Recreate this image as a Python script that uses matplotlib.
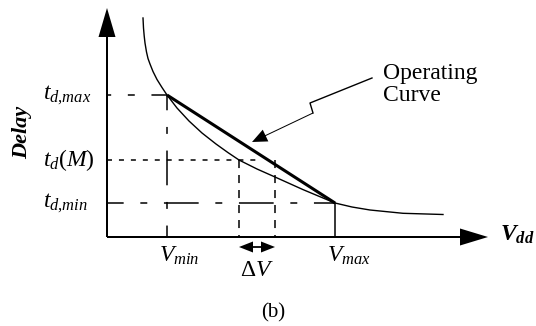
import matplotlib
matplotlib.use("Agg")
import matplotlib.pyplot as plt

plt.rcParams['font.family'] = ['Liberation Serif', 'DejaVu Serif']
plt.rcParams['mathtext.fontset'] = 'custom'
plt.rcParams['mathtext.rm'] = 'Liberation Serif'
plt.rcParams['mathtext.it'] = 'Liberation Serif:italic'
plt.rcParams['mathtext.bf'] = 'Liberation Serif:bold:italic'
plt.rcParams['lines.scale_dashes'] = False

# supply voltage / delay points (arbitrary units)
v_min = 60
v_max = 228
td_max = 142
td_m = 77
td_min = 34
dv_lo = 132
dv_hi = 168

# delay vs Vdd curve
curve_v = [36, 36.5, 37.2, 38, 39.5, 41, 43, 46, 50, 55, 60, 70, 82, 95, 109,
           121, 132, 150, 168, 196, 228, 245, 263, 296, 336]
curve_d = [219, 209, 201, 194, 185, 178.5, 173, 165.5, 157.5, 149.5, 142, 129,
           116, 104, 93, 84.4, 77, 68, 60, 47.4, 34, 30, 27, 23.7, 22.5]

fig = plt.figure(figsize=(5.36, 3.26), dpi=100)
ax = fig.add_axes([0, 0, 1, 1])
ax.set_xlim(-107, 429)
ax.set_ylim(-89, 237)
ax.axis('off')

# axes with arrow heads
ax.arrow(0, 0, 0, 229, width=2, head_width=17, head_length=29,
         length_includes_head=True, color='k', lw=0)
ax.arrow(0, 0, 381, 0, width=2, head_width=17, head_length=28,
         length_includes_head=True, color='k', lw=0)

# delay curve and operating line
ax.plot(curve_v, curve_d, color='k', lw=1.0)
ax.plot([v_min, v_max], [td_max, td_min], color='k', lw=2.2, solid_capstyle='butt')

# guide lines
ax.plot([0, v_min], [td_max, td_max], color='k', lw=1.1, linestyle=(22, (25, 12, 5, 12)))
ax.plot([0, v_max], [td_min, td_min], color='k', lw=1.1, linestyle=(13, (25, 12, 5, 12)))
ax.plot([v_min, v_min], [td_max, 0], color='k', lw=1.1, linestyle=(14, (25, 12, 5, 12)))
ax.plot([v_max, v_max], [td_min, 0], color='k', lw=1.1)
ax.plot([0, dv_hi - 13], [td_m, td_m], color='k', lw=1.1, linestyle=(0, (3.6, 5)))
ax.plot([dv_lo, dv_lo], [td_m, 0], color='k', lw=1.1, linestyle=(0, (5.8, 5)))
ax.plot([dv_hi, dv_hi], [td_m, 0], color='k', lw=1.1, linestyle=(0, (5.8, 5)))

# delta V double arrow
mid = (dv_lo + dv_hi) / 2
for end in (dv_lo, dv_hi):
    ax.arrow(mid, -10, end - mid, 0, width=1.8, head_width=11, head_length=14,
             length_includes_head=True, color='k', lw=0)

# pointer to the operating curve
ax.plot([265, 203, 206], [159, 134, 124], color='k', lw=1.0)
ax.arrow(206, 124, -61, -29, width=1.0, head_width=13, head_length=15,
         length_includes_head=True, color='k', lw=0)
ax.text(276, 174, 'Operating\nCurve', fontsize=17, ha='left', va='top',
        linespacing=1.05)

# tick labels
lab = dict(fontsize=17, ha='left', va='center')
ax.text(-64, td_max, r'$t_{d{,}max}$', **lab)
ax.text(-64, td_m, r'$t_{d}(M)$', **lab)
ax.text(-64, td_min, r'$t_{d{,}min}$', **lab)
ax.text(v_min - 8, -19, r'$V_{min}$', **lab)
ax.text(v_max - 8, -19, r'$V_{max}$', **lab)
ax.text(mid, -33, r'$\Delta V$', fontsize=17, ha='center', va='center')

ax.text(-85, 105, 'Delay', fontsize=16, fontweight='bold', style='italic',
        rotation=90, ha='center', va='center')
ax.text(393, 2, r'$\mathbf{V}_{\mathbf{dd}}$', fontsize=17, ha='left', va='center')
ax.text(166, -76, '(b)', fontsize=15, ha='center', va='center')

fig.savefig('out.png', dpi=100)
